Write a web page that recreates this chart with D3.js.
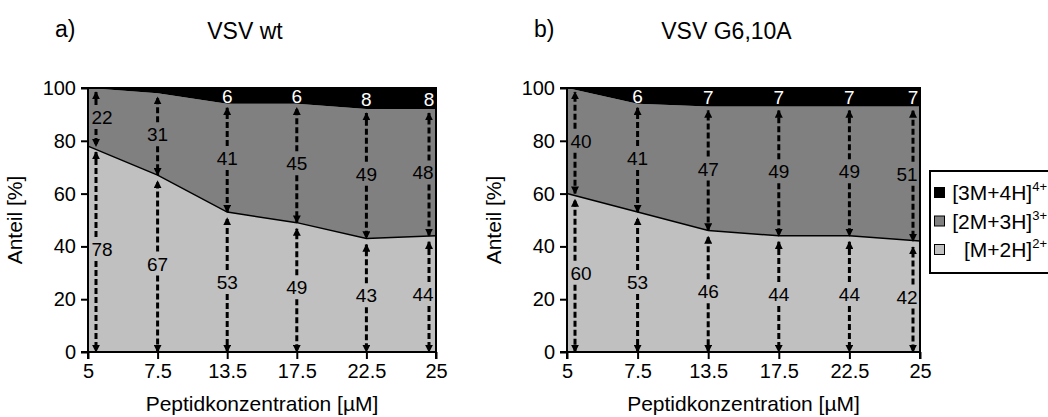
<!DOCTYPE html>
<html>
  <head>
    <meta charset="UTF-8">
    <title>VSV Anteil</title>
    <script src="https://cdn.jsdelivr.net/npm/d3@7"></script>
    <style>
      body { margin: 0; background: #fff; }
      text { font-family: "Liberation Sans", Arial, sans-serif; }
    </style>
  </head>
  <body>
    <svg id="chart" width="1048" height="417"></svg>
    <script>
      // data
      const categories = ["5", "7.5", "13.5", "17.5", "22.5", "25"];
      const wtM2H = [78, 67, 53, 49, 43, 44];
      const wt2M3H = [22, 31, 41, 45, 49, 48];
      const wt3M4H = [0, 2, 6, 6, 8, 8];
      const mutM2H = [60, 53, 46, 44, 44, 42];
      const mut2M3H = [40, 41, 47, 49, 49, 51];
      const mut3M4H = [0, 6, 7, 7, 7, 7];
      const yTicks = [0, 20, 40, 60, 80, 100];
      const seriesNames = ["[M+2H]", "[2M+3H]", "[3M+4H]"];
      const seriesSup = ["2+", "3+", "4+"];
      const colors = ["#c0c0c0", "#808080", "#000000"];

      const svg = d3.select("#chart");
      const y = d3.scaleLinear().domain([0, 100]).range([352, 88]);

      // arrow heads
      const defs = svg.append("defs");
      defs.append("marker")
        .attr("id", "head")
        .attr("viewBox", "0 0 10 10")
        .attr("refX", 9).attr("refY", 5)
        .attr("markerUnits", "userSpaceOnUse")
        .attr("markerWidth", 8).attr("markerHeight", 8)
        .attr("orient", "auto")
        .append("path").attr("d", "M0,0 L10,5 L0,10 Z").attr("fill", "#000");

      const panels = [
        { left: 88, right: 436, tag: "a)", title: "VSV wt", vals: [wtM2H, wt2M3H, wt3M4H] },
        { left: 567, right: 920, tag: "b)", title: "VSV G6,10A", vals: [mutM2H, mut2M3H, mut3M4H] }
      ];

      panels.forEach(p => {
        const x = d3.scalePoint().domain(categories).range([p.left, p.right]);
        const rows = categories.map((c, i) => ({ cat: c, s0: p.vals[0][i], s1: p.vals[1][i], s2: p.vals[2][i] }));
        const stacked = d3.stack().keys(["s0", "s1", "s2"])(rows);
        const g = svg.append("g");

        const area = d3.area()
          .x(d => x(d.data.cat))
          .y0(d => y(d[0]))
          .y1(d => y(d[1]));

        g.selectAll("path.layer")
          .data(stacked)
          .join("path")
          .attr("class", "layer")
          .attr("d", area)
          .attr("fill", (d, i) => colors[i]);

        // boundary line between lowest and middle layer
        g.append("path")
          .attr("d", d3.line().x(d => x(d.data.cat)).y(d => y(d[1]))(stacked[0]))
          .attr("fill", "none").attr("stroke", "#000").attr("stroke-width", 1.5);

        // right and top border
        g.append("path")
          .attr("d", `M${p.left},${y(100)}H${p.right}V${y(0)}`)
          .attr("fill", "none").attr("stroke", "#000").attr("stroke-width", 2);

        // arrows and labels
        const last = categories.length - 1;
        stacked.forEach((layer, li) => {
          layer.forEach((d, i) => {
            const val = d[1] - d[0];
            if (val <= 0) return;
            const inset = i === 0 ? 8 : i === last ? -7 : 0;
            const ax = x(d.data.cat) + inset;
            const lx = ax + (i === 0 ? 6 : i === last ? -6 : 0);
            const yTop = y(d[1]);
            const yBot = y(d[0]);
            const yMid = (yTop + yBot) / 2;
            if (li === 2) {
              if (val < 5) return;
              g.append("text")
                .attr("x", x(d.data.cat) + (i === last ? -7 : 0)).attr("y", yMid + 7)
                .attr("text-anchor", "middle")
                .attr("font-size", 19).attr("fill", "#fff")
                .text(val);
              return;
            }
            const segs = [[yMid - 12, yTop + (li === 0 ? 6 : 4)], [yMid + 12, yBot]];
            segs.forEach(s => {
              g.append("line")
                .attr("x1", ax).attr("x2", ax)
                .attr("y1", s[0]).attr("y2", s[1])
                .attr("stroke", "#000").attr("stroke-width", 3)
                .attr("stroke-dasharray", "6,3")
                .attr("marker-end", "url(#head)");
            });
            g.append("text")
              .attr("x", lx).attr("y", yMid + 7)
              .attr("text-anchor", "middle")
              .attr("font-size", 19).attr("fill", "#000")
              .text(val);
          });
        });

        // axes
        const yAxis = g.append("g")
          .attr("transform", `translate(${p.left},0)`)
          .call(d3.axisLeft(y).tickValues(yTicks).tickSize(7).tickPadding(5));
        const xAxis = g.append("g")
          .attr("transform", `translate(0,${y(0)})`)
          .call(d3.axisBottom(x).tickSize(7).tickPadding(5));
        [yAxis, xAxis].forEach(ax => {
          ax.select(".domain").attr("stroke-width", 2).attr("stroke", "#000");
          ax.selectAll(".tick line").attr("stroke-width", 2).attr("stroke", "#000");
          ax.selectAll(".tick text").attr("font-size", 20)
            .attr("font-family", "'Liberation Sans', Arial, sans-serif").attr("fill", "#000");
        });
        yAxis.select(".domain").attr("d", `M-7,${y(100)}H0V${y(0)}H-7`);
        xAxis.select(".domain").attr("d", `M${p.left},7V0H${p.right}V7`);

        // titles
        g.append("text")
          .attr("x", p.left - 33).attr("y", 37)
          .attr("font-size", 23).text(p.tag);
        g.append("text")
          .attr("x", (p.left + p.right) / 2 - 17).attr("y", 39)
          .attr("text-anchor", "middle").attr("font-size", 23).text(p.title);
        g.append("text")
          .attr("x", (p.left + p.right) / 2).attr("y", 411)
          .attr("text-anchor", "middle").attr("font-size", 21)
          .text("Peptidkonzentration [µM]");
        g.append("text")
          .attr("transform", `translate(${p.left - 66},${(y(0) + y(100)) / 2}) rotate(-90)`)
          .attr("text-anchor", "middle").attr("font-size", 21)
          .text("Anteil [%]");
      });

      // legend
      const legend = svg.append("g");
      legend.append("rect")
        .attr("x", 930).attr("y", 171).attr("width", 130).attr("height", 102)
        .attr("fill", "#fff").attr("stroke", "#000").attr("stroke-width", 2);
      const order = [2, 1, 0];
      order.forEach((si, k) => {
        const cy = 193 + k * 28.5;
        legend.append("rect")
          .attr("x", 934.5).attr("y", cy - 5.5).attr("width", 10).attr("height", 10)
          .attr("fill", colors[si]).attr("stroke", "#000").attr("stroke-width", 1);
        const t = legend.append("text")
          .attr("x", 1047).attr("y", cy + 7)
          .attr("text-anchor", "end").attr("font-size", 21);
        t.append("tspan").text(seriesNames[si]);
        t.append("tspan").attr("dy", -9).attr("font-size", 13).text(seriesSup[si]);
      });
    </script>
  </body>
</html>
